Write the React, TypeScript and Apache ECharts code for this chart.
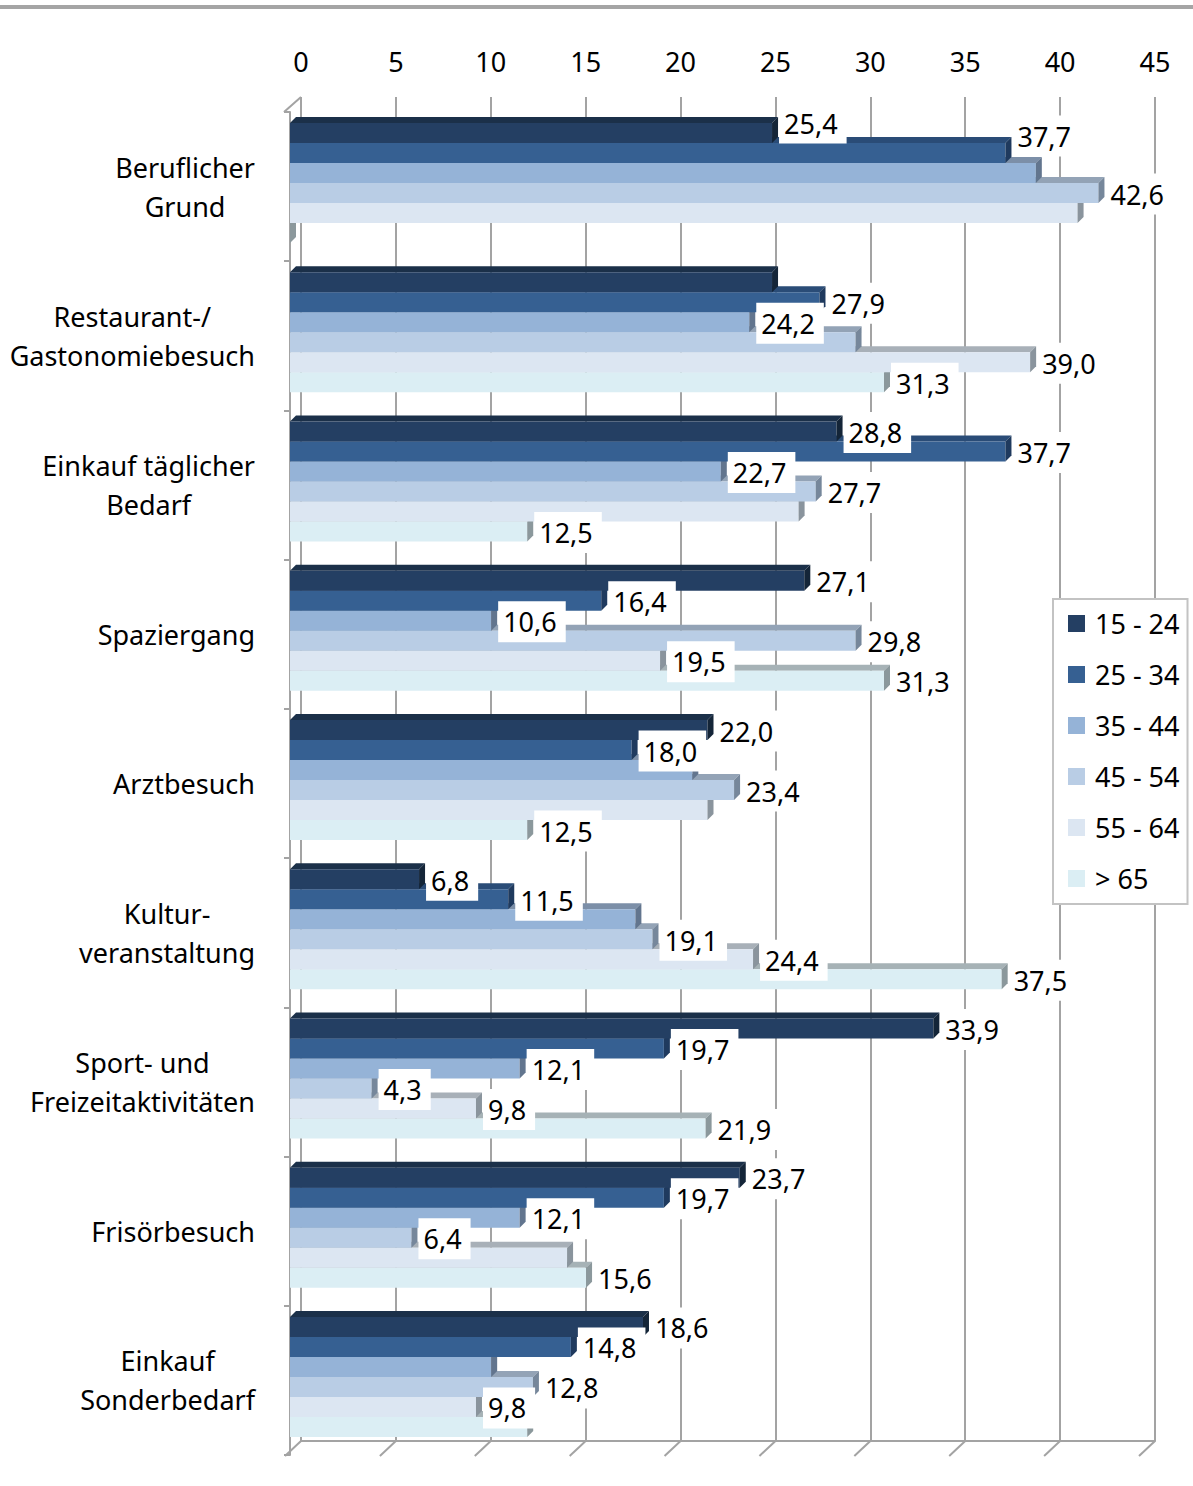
import React, { useEffect, useRef } from 'react';
import * as echarts from 'echarts';

// ---------- data ----------
const categories = [
  'Beruflicher\nGrund',
  'Restaurant-/\nGastonomiebesuch',
  'Einkauf täglicher\nBedarf',
  'Spaziergang',
  'Arztbesuch',
  'Kultur-\nveranstaltung',
  'Sport- und\nFreizeitaktivitäten',
  'Frisörbesuch',
  'Einkauf\nSonderbedarf',
];
const ageGroups = ['15 - 24', '25 - 34', '35 - 44', '45 - 54', '55 - 64', '> 65'];
const age15_24 = [25.4, 25.4, 28.8, 27.1, 22.0, 6.8, 33.9, 23.7, 18.6];
const age25_34 = [37.7, 27.9, 37.7, 16.4, 18.0, 11.5, 19.7, 19.7, 14.8];
const age35_44 = [39.3, 24.2, 22.7, 10.6, 21.2, 18.2, 12.1, 12.1, 10.6];
const age45_54 = [42.6, 29.8, 27.7, 29.8, 23.4, 19.1, 4.3, 6.4, 12.8];
const age55_64 = [41.5, 39.0, 26.8, 19.5, 22.0, 24.4, 9.8, 14.6, 9.8];
const age65plus = [0, 31.3, 12.5, 31.3, 12.5, 37.5, 21.9, 15.6, 12.5];
const seriesValues = [age15_24, age25_34, age35_44, age45_54, age55_64, age65plus];
const tickValues = [0, 5, 10, 15, 20, 25, 30, 35, 40, 45];
// labels not shown in the original: [series index, category index]
const hiddenLabels = [
  [2, 0], [4, 0], [5, 0], [0, 1], [3, 1], [4, 2], [2, 4], [4, 4], [2, 5], [4, 7], [2, 8], [5, 8],
];

// ---------- style ----------
const FONT = '"Noto Sans", "Open Sans", sans-serif';
const FS = 27;
const colors = ['#243F63', '#366092', '#95B3D7', '#B9CDE5', '#DCE6F2', '#DBEEF4'];
const topColors = ['#1b3049', '#2a4c77', '#7c8fa8', '#93a3b6', '#a8b0b8', '#a6b2b6'];
const sideColors = ['#142538', '#1f3a5e', '#62758e', '#76879b', '#8a949d', '#8b989c'];
const labelNudge: Record<string, number> = { '0_0': -11, '1_0': -18 };
const GRID_COLOR = '#a3a3a3';
const BAR_H = 20;
const DEPTH = 6;
const GROUP_OFF = 63.5;

const isHidden = (s: number, c: number) => hiddenLabels.some(([a, b]) => a === s && b === c);
const fmt = (v: number) => v.toFixed(1).replace('.', ',');

export default function App() {
  const ref = useRef<HTMLDivElement>(null);

  useEffect(() => {
    document.body.style.margin = '0';
    if (!ref.current) return;
    const chart = echarts.init(ref.current, undefined, { renderer: 'svg' });

    const barSeries = seriesValues.map((vals, s) => ({
      name: ageGroups[s],
      type: 'custom',
      xAxisIndex: 1,
      yAxisIndex: 1,
      z: 10 - s,
      itemStyle: { color: colors[s] },
      encode: { x: 0, y: 1 },
      data: vals.map((v, i) => [v, i]),
      renderItem: (params: any, api: any) => {
        const v = api.value(0);
        const ci = api.value(1);
        const end = api.coord([v, ci]);
        const start = api.coord([0, ci]);
        const top = end[1] - GROUP_OFF + s * BAR_H;
        const x0 = start[0];
        const x1 = end[0];
        return {
          type: 'group',
          children: [
            {
              type: 'polygon',
              shape: { points: [[x0, top], [x0 + DEPTH, top - DEPTH], [x1 + DEPTH, top - DEPTH], [x1, top]] },
              style: { fill: topColors[s] },
            },
            {
              type: 'rect',
              shape: { x: x0, y: top, width: Math.max(0, x1 - x0), height: BAR_H },
              style: { fill: colors[s] },
            },
            {
              type: 'polygon',
              shape: {
                points: [[x1, top], [x1 + DEPTH, top - DEPTH], [x1 + DEPTH, top + BAR_H - DEPTH], [x1, top + BAR_H]],
              },
              style: { fill: sideColors[s] },
            },
          ],
        };
      },
    }));

    const labelSeries = seriesValues.map((vals, s) => ({
      name: 'label_' + s,
      type: 'custom',
      xAxisIndex: 1,
      yAxisIndex: 1,
      z: 20,
      silent: true,
      encode: { x: 0, y: 1 },
      data: vals.map((v, i) => [v, i]),
      renderItem: (params: any, api: any) => {
        const v = api.value(0);
        const ci = api.value(1);
        if (isHidden(s, ci)) return null;
        const end = api.coord([v, ci]);
        const top = end[1] - GROUP_OFF + s * BAR_H;
        const nudge = labelNudge[s + '_' + ci] || 0;
        return {
          type: 'text',
          x: end[0] + DEPTH + 1,
          y: top + BAR_H / 2 + 1 + nudge,
          style: {
            text: fmt(v),
            fill: '#000',
            fontSize: FS,
            fontFamily: FONT,
            align: 'left',
            verticalAlign: 'middle',
            backgroundColor: '#fff',
            padding: [7, 9, 7, 5],
          },
        };
      },
    }));

    const frameSeries = {
      name: 'frame',
      type: 'custom',
      xAxisIndex: 0,
      yAxisIndex: 0,
      z: 1,
      silent: true,
      data: [[0, 0]],
      renderItem: (params: any, api: any) => {
        const children: any[] = [];
        const lineStyle = { stroke: GRID_COLOR, lineWidth: 2 };
        tickValues.forEach((t) => {
          const p = api.coord([t, 0]);
          children.push({
            type: 'line',
            shape: { x1: p[0], y1: p[1], x2: p[0] - 16, y2: p[1] + 15 },
            style: lineStyle,
          });
        });
        const tl = api.coord([0, 1]);
        children.push({
          type: 'line',
          shape: { x1: tl[0], y1: tl[1], x2: tl[0] - 17, y2: tl[1] + 15 },
          style: lineStyle,
        });
        return { type: 'group', children };
      },
    };

    const option: any = {
      animation: false,
      backgroundColor: '#fff',
      color: colors,
      textStyle: { fontFamily: FONT },
      graphic: [
        { type: 'rect', shape: { x: 0, y: 5, width: 1193, height: 4 }, style: { fill: '#a5a5a5' }, silent: true },
      ],
      legend: {
        data: ageGroups,
        orient: 'vertical',
        left: 1053,
        top: 599,
        itemWidth: 17,
        itemHeight: 17,
        itemGap: 24,
        padding: [11, 8, 12, 15],
        backgroundColor: '#fff',
        borderColor: '#c3c3c3',
        borderWidth: 2,
        icon: 'rect',
        selectedMode: false,
        textStyle: { fontSize: FS, fontFamily: FONT, color: '#000', lineHeight: 27, padding: [0, 0, 0, 5] },
        z: 30,
      },
      grid: [
        { left: 301, top: 97, width: 854, height: 1344, containLabel: false },
        { left: 290, top: 112, width: 854, height: 1343, containLabel: false },
      ],
      xAxis: [
        {
          gridIndex: 0,
          type: 'value',
          position: 'top',
          min: 0,
          max: 45,
          interval: 5,
          axisLine: { show: true, lineStyle: { color: GRID_COLOR, width: 2 } },
          axisTick: { show: true, length: 9, lineStyle: { color: GRID_COLOR, width: 2 } },
          axisLabel: { fontSize: FS, fontFamily: FONT, color: '#000', margin: 22 },
          splitLine: { show: true, lineStyle: { color: GRID_COLOR, width: 2 } },
        },
        {
          gridIndex: 1,
          type: 'value',
          min: 0,
          max: 45,
          interval: 5,
          show: false,
        },
      ],
      yAxis: [
        {
          gridIndex: 0,
          type: 'value',
          min: 0,
          max: 1,
          show: false,
        },
        {
          gridIndex: 1,
          type: 'category',
          inverse: true,
          data: categories,
          offset: 6,
          axisLine: { show: true, lineStyle: { color: GRID_COLOR, width: 2 } },
          axisTick: { show: true, length: 6, lineStyle: { color: GRID_COLOR, width: 2 } },
          splitLine: { show: false },
          axisLabel: {
            interval: 0,
            margin: 29,
            fontSize: FS,
            lineHeight: 39,
            fontFamily: FONT,
            color: '#000',
            formatter: (value: string) =>
              value
                .split('\n')
                .map((line) => '{c|' + line + '}')
                .join('\n'),
            rich: {
              c: { align: 'center', fontSize: FS, lineHeight: 39, fontFamily: FONT, color: '#000' },
            },
          },
        },
      ],
      series: [frameSeries, ...barSeries, ...labelSeries],
    };

    chart.setOption(option);
    return () => chart.dispose();
  }, []);

  return <div ref={ref} style={{ width: 1193, height: 1486 }} />;
}
